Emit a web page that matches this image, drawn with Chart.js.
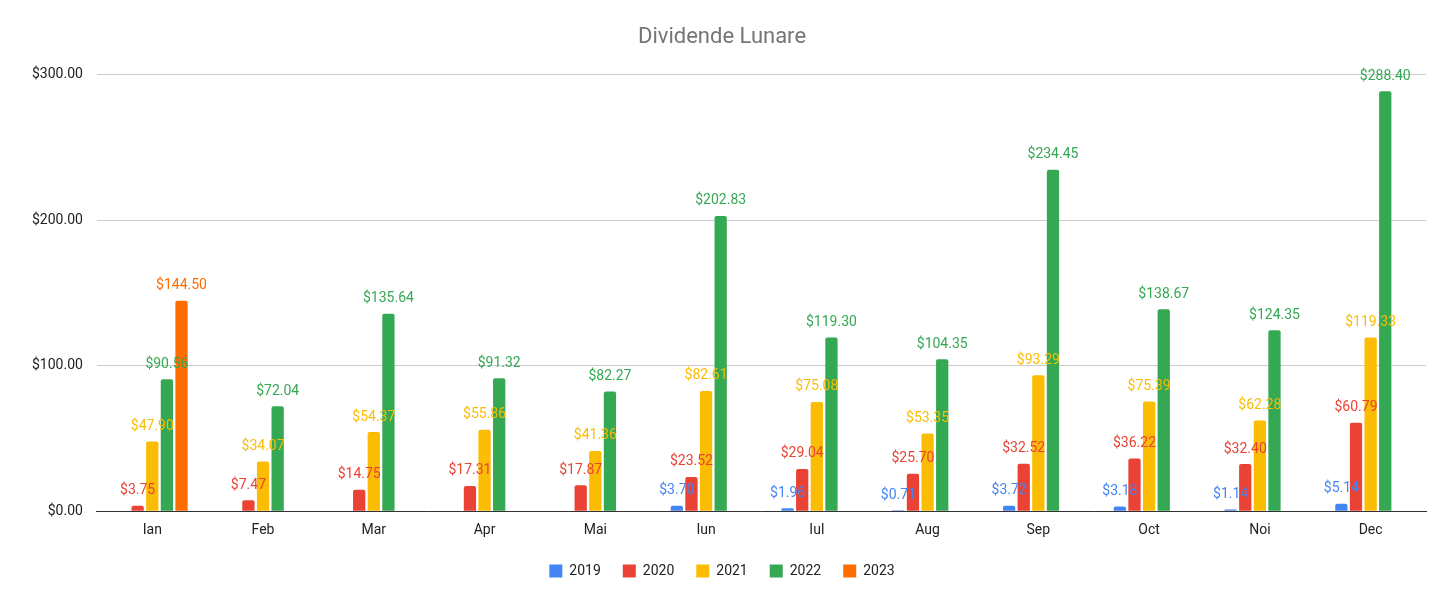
<!DOCTYPE html>
<html>
<head>
<meta charset="utf-8">
<script src="https://cdn.jsdelivr.net/npm/chart.js@4/dist/chart.umd.min.js"></script>
<style>
  html, body { margin: 0; background: #fff; }
  #wrap { width: 1456px; height: 598px; }
</style>
</head>
<body>
<div id="wrap"><canvas id="myChart"></canvas></div>
<script>
const months = ["Ian", "Feb", "Mar", "Apr", "Mai", "Iun", "Iul", "Aug", "Sep", "Oct", "Noi", "Dec"];
const y2019 = [null, null, null, null, null, 3.70, 1.96, 0.71, 3.72, 3.18, 1.14, 5.14];
const y2020 = [3.75, 7.47, 14.75, 17.31, 17.87, 23.52, 29.04, 25.70, 32.52, 36.22, 32.40, 60.79];
const y2021 = [47.90, 34.07, 54.37, 55.86, 41.36, 82.61, 75.08, 53.35, 93.29, 75.39, 62.28, 119.33];
const y2022 = [90.56, 72.04, 135.64, 91.32, 82.27, 202.83, 119.30, 104.35, 234.45, 138.67, 124.35, 288.40];
const y2023 = [144.50, null, null, null, null, null, null, null, null, null, null, null];

const colors = ["#4285F4", "#EA4335", "#FBBC04", "#34A853", "#FF6D01"];
const money = (v) => "$" + v.toFixed(2);

// value labels above each bar
const barLabels = {
  id: "barLabels",
  afterDatasetsDraw(chart) {
    const ctx = chart.ctx;
    ctx.save();
    ctx.font = "14px Roboto, Arial, sans-serif";
    ctx.textAlign = "center";
    ctx.textBaseline = "bottom";
    chart.data.datasets.forEach((ds, i) => {
      chart.getDatasetMeta(i).data.forEach((bar, j) => {
        const v = ds.data[j];
        if (v == null) return;
        ctx.fillStyle = ds.backgroundColor;
        ctx.fillText(money(v), bar.x, bar.y - 8);
      });
    });
    ctx.restore();
  },
};

const mk = (label, data, i) => ({
  label: label,
  data: data,
  backgroundColor: colors[i],
  categoryPercentage: 0.66,
  barPercentage: 0.84,
  borderRadius: { topLeft: 2, topRight: 2 },
  borderSkipped: "bottom",
});

const data = {
  labels: months,
  datasets: [
    mk("2019", y2019, 0),
    mk("2020", y2020, 1),
    mk("2021", y2021, 2),
    mk("2022", y2022, 3),
    mk("2023", y2023, 4),
  ],
};

const config = {
  type: "bar",
  data: data,
  options: {
    responsive: true,
    maintainAspectRatio: false,
    animation: false,
    layout: { padding: { left: 18, right: 30, top: 10, bottom: 10 } },
    scales: {
      x: {
        grid: { display: false },
        border: { color: "#333", width: 1 },
        ticks: { color: "#222", font: { size: 14, family: "Roboto, Arial" } },
      },
      y: {
        min: 0,
        max: 300,
        ticks: {
          stepSize: 100,
          color: "#222",
          padding: 14,
          font: { size: 14, family: "Roboto, Arial" },
          callback: (v) => money(v),
        },
        grid: { color: "#cccccc", drawTicks: false },
        border: { display: false },
      },
    },
    plugins: {
      title: {
        display: true,
        text: "Dividende Lunare",
        color: "#757575",
        font: { size: 22, family: "Roboto, Arial", weight: "normal" },
        padding: { top: 14, bottom: 24 },
      },
      legend: {
        position: "bottom",
        labels: {
          color: "#222",
          boxWidth: 13,
          boxHeight: 13,
          padding: 22,
          font: { size: 14, family: "Roboto, Arial" },
        },
      },
      tooltip: { enabled: false },
    },
  },
  plugins: [barLabels],
};

const myChart = new Chart(document.getElementById("myChart"), config);
</script>
</body>
</html>
